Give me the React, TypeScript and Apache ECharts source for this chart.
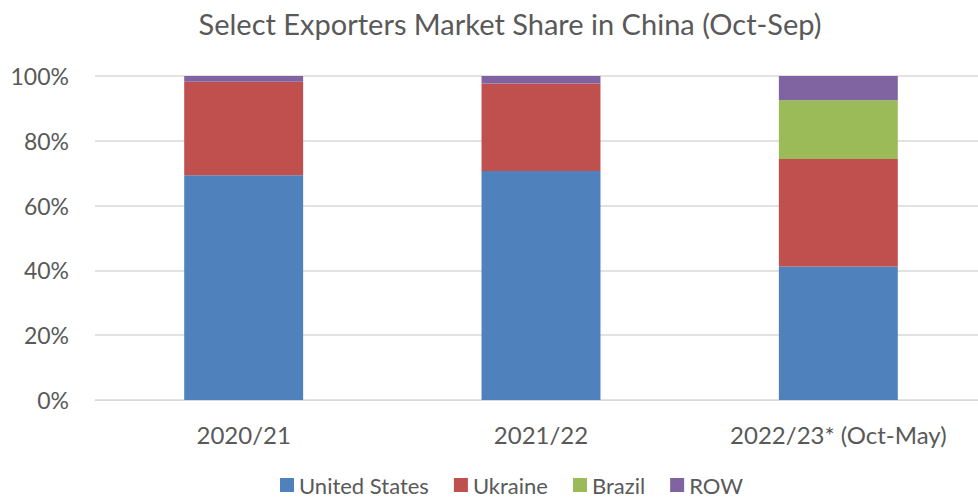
import React, { useEffect, useRef } from "react";
import * as echarts from "echarts";

const categories = ["2020/21", "2021/22", "2022/23* (Oct-May)"];
const unitedStates = [69.4, 70.7, 41.2];
const ukraine = [28.8, 27.0, 33.2];
const brazil = [0, 0, 18.1];
const row = [1.8, 2.3, 7.5];
const yTicks = [0, 20, 40, 60, 80, 100];

const seriesDefs = [
  { name: "United States", data: unitedStates, color: "#4F81BD" },
  { name: "Ukraine", data: ukraine, color: "#C0504D" },
  { name: "Brazil", data: brazil, color: "#9BBB59" },
  { name: "ROW", data: row, color: "#8064A2" },
];

export default function App() {
  const ref = useRef<HTMLDivElement>(null);
  useEffect(() => {
    if (!ref.current) return;
    const chart = echarts.init(ref.current, undefined, { renderer: "svg" });
    const font = "Lato, 'Open Sans', sans-serif";
    chart.setOption({
      animation: false,
      textStyle: { fontFamily: font },
      title: {
        text: "Select Exporters Market Share in China (Oct-Sep)",
        left: 505,
        textAlign: "center",
        top: 4,
        textStyle: { fontFamily: font, fontSize: 29, fontWeight: "normal", color: "#595959" },
      },
      legend: {
        top: 469,
        left: 280,
        padding: [5, 0, 0, 0],
        itemWidth: 14,
        itemHeight: 14,
        itemGap: 25,
        icon: "rect",
        textStyle: { fontFamily: font, fontSize: 22, lineHeight: 19, color: "#595959" },
        data: seriesDefs.map((s) => s.name),
      },
      grid: { left: 95, top: 76, width: 892, bottom: 497 - 400 },
      xAxis: {
        type: "category",
        data: categories,
        axisLine: { show: true, lineStyle: { color: "#D9D9D9" } },
        axisTick: { show: false },
        axisLabel: { fontFamily: font, fontSize: 24, color: "#595959", margin: 22 },
      },
      yAxis: {
        type: "value",
        min: 0,
        max: 100,
        interval: 20,
        axisLine: { show: false },
        axisTick: { show: false },
        splitLine: { lineStyle: { color: "#D9D9D9", width: 1.5 } },
        axisLabel: {
          fontFamily: font,
          fontSize: 23,
          color: "#595959",
          margin: 26,
          formatter: (v: number) => (yTicks.includes(v) ? v + "%" : ""),
        },
      },
      series: seriesDefs.map((s) => ({
        name: s.name,
        type: "bar",
        stack: "total",
        data: s.data,
        barWidth: "40%",
        itemStyle: { color: s.color },
      })),
    });
    return () => chart.dispose();
  }, []);
  return (
    <div style={{ position: "absolute", left: 0, top: 0, width: 978, height: 497, overflow: "hidden" }}>
      <div ref={ref} style={{ width: 990, height: 497 }} />
    </div>
  );
}
